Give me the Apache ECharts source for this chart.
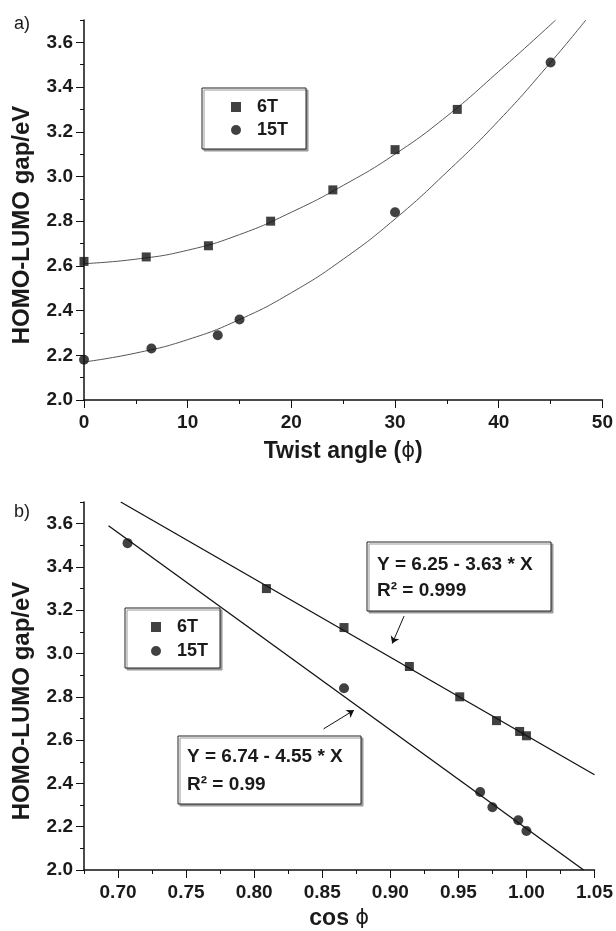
<!DOCTYPE html>
<html><head><meta charset="utf-8">
<script src="https://cdn.jsdelivr.net/npm/echarts@6/dist/echarts.min.js"></script>
<style>html,body{margin:0;padding:0;background:#fff}#c{width:616px;height:931px}</style>
</head><body><div id="c"></div>
<script>
// ---- data ----
const phi6T  = [0, 6, 12, 18, 24, 30, 36];
const gap6T  = [2.62, 2.64, 2.69, 2.80, 2.94, 3.12, 3.30];
const phi15T = [0, 6.5, 12.9, 15, 30, 45];
const gap15T = [2.18, 2.23, 2.29, 2.36, 2.84, 3.51];
const cos6T  = [1.000, 0.995, 0.978, 0.951, 0.914, 0.866, 0.809];
const cos15T = [1.000, 0.994, 0.975, 0.966, 0.866, 0.707];
// fitted curves (panel a)
const fitPhi6T  = [0, 5, 10, 15, 20, 25, 30, 35, 40, 45.5];
const fitGap6T  = [2.61, 2.63, 2.67, 2.74, 2.84, 2.96, 3.10, 3.27, 3.47, 3.70];
const fitPhi15T = [0, 5, 10, 15, 20, 25, 30, 35, 40, 45, 48.4];
const fitGap15T = [2.17, 2.21, 2.27, 2.36, 2.48, 2.63, 2.81, 3.02, 3.25, 3.51, 3.70];
// linear fits (panel b)
const lineCos6T  = [0.702, 1.05];
const lineGap6T  = [3.70, 2.44];
const lineCos15T = [0.693, 1.042];
const lineGap15T = [3.59, 2.00];
// tick labels
const xTicksA = [0, 10, 20, 30, 40, 50];
const xTicksB = [0.70, 0.75, 0.80, 0.85, 0.90, 0.95, 1.00, 1.05];
const yTicks  = [2.0, 2.2, 2.4, 2.6, 2.8, 3.0, 3.2, 3.4, 3.6];
const seriesNames = ['6T', '15T'];
const fitText6T  = ['Y = 6.25 - 3.63 * X', 'R\u00B2 = 0.999'];
const fitText15T = ['Y = 6.74 - 4.55 * X', 'R\u00B2 = 0.99'];

// ---- chart ----
const FONT = '"Liberation Sans", Arial, Helvetica, "DejaVu Sans", sans-serif';
const PHIFONT = '"DejaVu Sans", "Liberation Sans", sans-serif';
const TXT = '#1a1a1a';
const pairs = (xs, ys) => xs.map((x, i) => [x, ys[i]]);
const chart = echarts.init(document.getElementById('c'), null, {renderer: 'canvas'});

const lblStyle = {fontFamily: FONT, fontSize: 19, fontWeight: 'bold', color: TXT};
const titleStyle = {fontFamily: FONT, fontSize: 23, fontWeight: 'bold', color: TXT,
  rich: {p: {fontFamily: PHIFONT, fontSize: 21, fontWeight: 'normal', color: TXT}}};
const axLine = {show: true, lineStyle: {color: '#111', width: 1.5}};

function primaryX(grid, min, max, step, majors, fmt, name, gap) {
  return {type: 'value', gridIndex: grid, min, max, interval: step, position: 'bottom',
    axisLine: axLine, splitLine: {show: false},
    axisTick: {show: true, length: 4, lineStyle: {color: '#111', width: 1}},
    axisLabel: Object.assign({customValues: majors, margin: 13, formatter: fmt}, lblStyle),
    name, nameLocation: 'middle', nameGap: gap, nameTextStyle: titleStyle};
}
function overlayX(grid, min, max, majors) {
  return {type: 'value', gridIndex: grid, min, max, position: 'bottom',
    axisLine: {show: false}, splitLine: {show: false}, axisLabel: {show: false},
    axisTick: {show: true, customValues: majors, length: 8, lineStyle: {color: '#111', width: 1}}};
}
function primaryY(grid) {
  return {type: 'value', gridIndex: grid, min: 2.0, max: 3.7, interval: 0.1, position: 'left',
    axisLine: axLine, splitLine: {show: false},
    axisTick: {show: true, length: 4, lineStyle: {color: '#111', width: 1}},
    axisLabel: Object.assign({customValues: yTicks, margin: 11, formatter: v => v.toFixed(1)}, lblStyle),
    name: 'HOMO-LUMO gap/eV', nameLocation: 'middle', nameGap: 50,
    nameTextStyle: Object.assign({}, titleStyle, {fontSize: 24, padding: [0, 30, 0, 0]})};
}
function overlayY(grid) {
  return {type: 'value', gridIndex: grid, min: 2.0, max: 3.7, position: 'left',
    axisLine: {show: false}, splitLine: {show: false}, axisLabel: {show: false},
    axisTick: {show: true, customValues: yTicks, length: 8, lineStyle: {color: '#111', width: 1}}};
}

function legendAt(left, top, padding, gap) {
  return {show: true, data: seriesNames, orient: 'vertical', left, top, padding, itemGap: gap,
    itemWidth: 10, itemHeight: 10, selectedMode: false,
    backgroundColor: '#fff', borderColor: '#222', borderWidth: 1,
    shadowColor: '#999', shadowOffsetX: 2, shadowOffsetY: 2, shadowBlur: 0,
    textStyle: {fontFamily: FONT, fontSize: 18, fontWeight: 'bold', color: TXT, padding: [0, 0, 0, 11]}};
}

function annot(x, y, w, h, lines, ty1, ty2, tx) {
  return {type: 'group', children: [
    {type: 'rect', shape: {x, y, width: w, height: h},
      style: {fill: '#fff', stroke: '#222', lineWidth: 1, shadowColor: '#999', shadowOffsetX: 2, shadowOffsetY: 2, shadowBlur: 0}, z: 10},
    {type: 'text', x: tx, y: ty1, style: {text: lines[0], fontFamily: FONT, fontSize: 19, fontWeight: 'bold', fill: TXT, verticalAlign: 'middle'}, z: 11},
    {type: 'text', x: tx, y: ty2, style: {text: lines[1], fontFamily: FONT, fontSize: 19, fontWeight: 'bold', fill: TXT, verticalAlign: 'middle'}, z: 11}
  ]};
}

const scatterStyle = (name, sym, size, xi, yi) => ({
  type: 'scatter', name, xAxisIndex: xi, yAxisIndex: yi, symbol: sym, symbolSize: size,
  itemStyle: {color: '#111'}, z: 5, animation: false
});

const option = {
  backgroundColor: '#fff',
  animation: false,
  grid: [
    {left: 84, top: 20, width: 520, height: 380},
    {left: 84, top: 502, width: 514, height: 375}
  ],
  xAxis: [
    primaryX(0, 0, 50, 5, xTicksA, v => String(v), 'Twist angle ({p|\u03D5})', 40),
    overlayX(0, 0, 50, xTicksA),
    primaryX(1, 0.675, 1.05, 0.025, xTicksB, v => v.toFixed(2), 'cos {p|\u03D5}', 37),
    overlayX(1, 0.675, 1.05, xTicksB)
  ],
  yAxis: [primaryY(0), overlayY(0), primaryY(1), overlayY(1)],
  legend: [
    legendAt(202, 88, [10, 18, 10, 29], 5),
    legendAt(125, 608, [10, 12, 8, 26], 6)
  ],
  graphic: [
    {type: 'text', left: 14, top: 15, style: {text: 'a)', fontFamily: FONT, fontSize: 18, fill: TXT}},
    {type: 'text', left: 14, top: 503, style: {text: 'b)', fontFamily: FONT, fontSize: 18, fill: TXT}},
    annot(367, 542, 184, 69, fitText6T, 565, 591, 377),
    annot(178, 736, 183, 68, fitText15T, 757, 785, 187)
  ],
  series: [
    {type: 'line', name: 'fit6T', xAxisIndex: 0, yAxisIndex: 0, data: pairs(fitPhi6T, fitGap6T),
      smooth: true, showSymbol: false, lineStyle: {color: '#555', width: 1}, z: 2},
    {type: 'line', name: 'fit15T', xAxisIndex: 0, yAxisIndex: 0, data: pairs(fitPhi15T, fitGap15T),
      smooth: true, showSymbol: false, lineStyle: {color: '#555', width: 1}, z: 2},
    Object.assign(scatterStyle('6T', 'rect', 9, 0, 0), {data: pairs(phi6T, gap6T)}),
    Object.assign(scatterStyle('15T', 'circle', 10, 0, 0), {data: pairs(phi15T, gap15T)}),
    {type: 'line', name: 'lin6T', xAxisIndex: 2, yAxisIndex: 2, data: pairs(lineCos6T, lineGap6T),
      showSymbol: false, lineStyle: {color: '#111', width: 1.3}, z: 2},
    {type: 'line', name: 'lin15T', xAxisIndex: 2, yAxisIndex: 2, data: pairs(lineCos15T, lineGap15T),
      showSymbol: false, lineStyle: {color: '#111', width: 1.3}, z: 2,
      markLine: {silent: true, symbol: ['none', 'arrow'], symbolSize: 7, label: {show: false},
        lineStyle: {color: '#111', width: 1, type: 'solid'},
        data: [
          [{coord: [0.9101, 3.173]}, {coord: [0.9014, 3.046]}],
          [{coord: [0.851, 2.652]}, {coord: [0.8733, 2.738]}]
        ]}},
    Object.assign(scatterStyle('6T', 'rect', 9, 2, 2), {data: pairs(cos6T, gap6T)}),
    Object.assign(scatterStyle('15T', 'circle', 10, 2, 2), {data: pairs(cos15T, gap15T)})
  ]
};
chart.setOption(option);
</script>
</body></html>
